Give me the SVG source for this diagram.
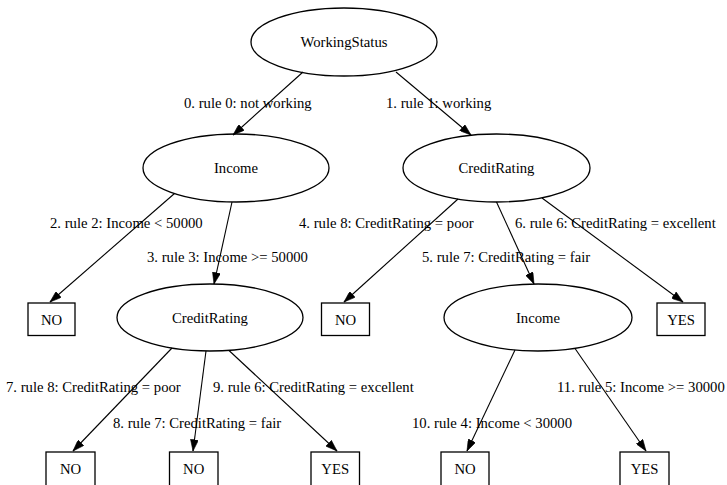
<svg xmlns="http://www.w3.org/2000/svg" width="727" height="485" viewBox="0 0 727 485">
<style>
.n{fill:none;stroke:#000;stroke-width:1.3}
.t{font-family:"Liberation Serif","Times New Roman",serif;font-size:14.7px;fill:#000}
.c{text-anchor:middle}
.e{stroke:#000;stroke-width:1.1;fill:none}
</style>
<defs>
<marker id="a" markerUnits="userSpaceOnUse" markerWidth="12" markerHeight="8" refX="10" refY="3.5" orient="auto" viewBox="0 0 10 7">
<path d="M0,0 L10,3.5 L0,7 Z" fill="#000" stroke="#000" stroke-width="0.5"/>
</marker>
</defs>
<rect width="727" height="485" fill="#fff"/>
<g id="connectors">
<line class="e" x1="303" y1="72" x2="233" y2="135" marker-end="url(#a)"/>
<line class="e" x1="396" y1="72" x2="471" y2="135" marker-end="url(#a)"/>
<line class="e" x1="174.5" y1="193.5" x2="50" y2="302" marker-end="url(#a)"/>
<line class="e" x1="232" y1="202" x2="214" y2="284" marker-end="url(#a)"/>
<line class="e" x1="458" y1="199" x2="344" y2="302" marker-end="url(#a)"/>
<line class="e" x1="496.5" y1="202" x2="534" y2="284" marker-end="url(#a)"/>
<line class="e" x1="542" y1="198" x2="683" y2="302" marker-end="url(#a)"/>
<line class="e" x1="172" y1="348" x2="73" y2="451" marker-end="url(#a)"/>
<line class="e" x1="206" y1="351" x2="193" y2="451" marker-end="url(#a)"/>
<line class="e" x1="229" y1="350.5" x2="337" y2="451" marker-end="url(#a)"/>
<line class="e" x1="515" y1="350" x2="467" y2="451" marker-end="url(#a)"/>
<line class="e" x1="575" y1="348.5" x2="646" y2="451" marker-end="url(#a)"/>
<text class="t" x="184" y="108">0. rule 0: not working</text>
<text class="t" x="386" y="108">1. rule 1: working</text>
<text class="t" x="50" y="228">2. rule 2: Income &lt; 50000</text>
<text class="t" x="147" y="262">3. rule 3: Income &gt;= 50000</text>
<text class="t" x="299" y="228">4. rule 8: CreditRating = poor</text>
<text class="t" x="422" y="262">5. rule 7: CreditRating = fair</text>
<text class="t" x="515" y="228">6. rule 6: CreditRating = excellent</text>
<text class="t" x="6" y="392">7. rule 8: CreditRating = poor</text>
<text class="t" x="113" y="428">8. rule 7: CreditRating = fair</text>
<text class="t" x="213" y="392">9. rule 6: CreditRating = excellent</text>
<text class="t" x="412" y="428">10. rule 4: Income &lt; 30000</text>
<text class="t" x="557" y="392">11. rule 5: Income &gt;= 30000</text>
</g>
<g id="n_workingstatus">
<ellipse class="n" cx="344" cy="42" rx="93" ry="34"/>
<text class="t c" x="344" y="47">WorkingStatus</text>
</g>
<g id="n_income1">
<ellipse class="n" cx="236" cy="168" rx="93" ry="34"/>
<text class="t c" x="236" y="173">Income</text>
</g>
<g id="n_credit1">
<ellipse class="n" cx="496.5" cy="168" rx="93.5" ry="34"/>
<text class="t c" x="496.5" y="173">CreditRating</text>
</g>
<g id="n_no1">
<rect class="n" x="28" y="303" width="47" height="32.5"/>
<text class="t c" x="51.5" y="325">NO</text>
</g>
<g id="n_credit2">
<ellipse class="n" cx="210" cy="317.5" rx="93" ry="33.5"/>
<text class="t c" x="210" y="322.5">CreditRating</text>
</g>
<g id="n_no2">
<rect class="n" x="321.5" y="303" width="48" height="32.5"/>
<text class="t c" x="345.5" y="325">NO</text>
</g>
<g id="n_income2">
<ellipse class="n" cx="538" cy="317.5" rx="94" ry="33.5"/>
<text class="t c" x="538" y="322.5">Income</text>
</g>
<g id="n_yes1">
<rect class="n" x="657" y="303" width="48" height="32.5"/>
<text class="t c" x="681" y="325">YES</text>
</g>
<g id="n_no3">
<rect class="n" x="46" y="452" width="49" height="34"/>
<text class="t c" x="70.5" y="474">NO</text>
</g>
<g id="n_no4">
<rect class="n" x="169.5" y="452" width="48.5" height="34"/>
<text class="t c" x="193.7" y="474">NO</text>
</g>
<g id="n_yes2">
<rect class="n" x="311" y="452" width="48.5" height="34"/>
<text class="t c" x="335.2" y="474">YES</text>
</g>
<g id="n_no5">
<rect class="n" x="441" y="452" width="48" height="34"/>
<text class="t c" x="465" y="474">NO</text>
</g>
<g id="n_yes3">
<rect class="n" x="620" y="452" width="49" height="34"/>
<text class="t c" x="644.5" y="474">YES</text>
</g>
</svg>
